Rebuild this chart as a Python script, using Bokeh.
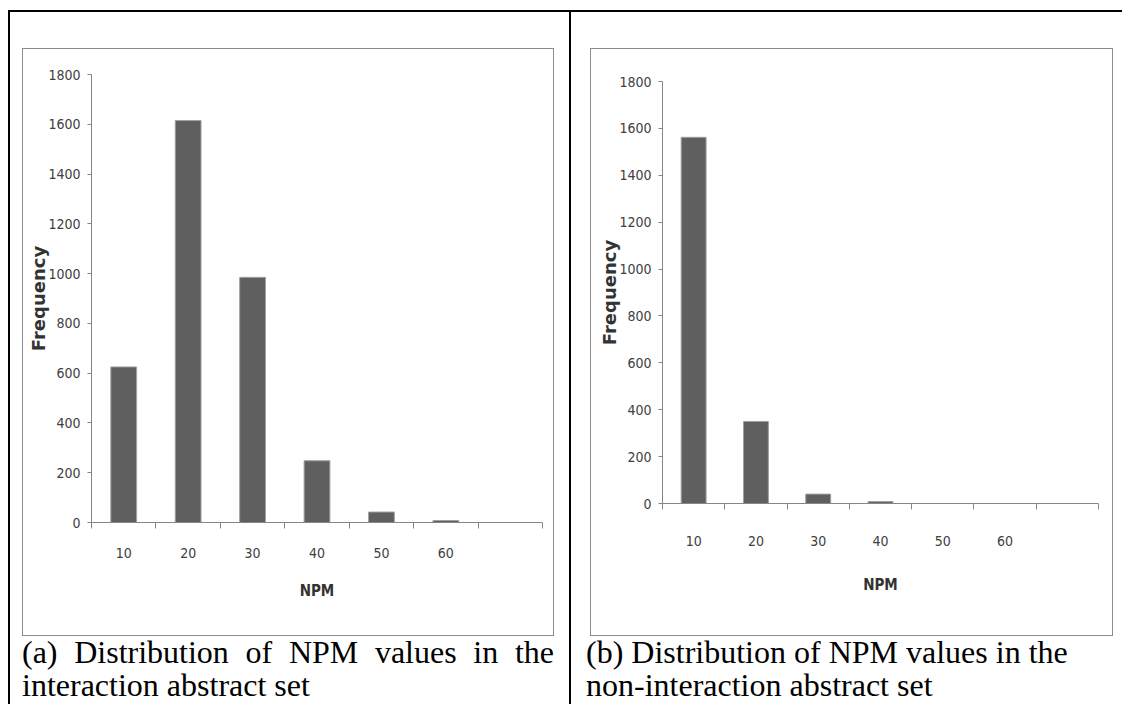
from bokeh.plotting import figure
from bokeh.models import Range1d, FixedTicker, CustomJSTickFormatter, Div, Spacer
from bokeh.layouts import row, column
from bokeh.embed import file_html
from bokeh.resources import INLINE

# ---- data ----
npm_labels = ["10", "20", "30", "40", "50", "60", ""]
freq_interaction = [625, 1615, 985, 248, 42, 8, 0]
freq_non_interaction = [1562, 350, 40, 8, 0, 0, 0]
y_ticks = [0, 200, 400, 600, 800, 1000, 1200, 1400, 1600, 1800]
x_title = "NPM"
y_title = "Frequency"
caption_a = "(a) Distribution of NPM values in the interaction abstract set"
caption_b = "(b) Distribution of NPM values in the non-interaction abstract set"

TICK_FONT = "'Liberation Sans Narrow', 'DejaVu Sans Condensed', 'Liberation Sans', sans-serif"
AXIS_GRAY = "#868686"


def make_chart(values, w, h, ml, mr, mt, mb, xlab_so, xtitle_so, ytitle_so):
    n = len(npm_labels)
    p = figure(width=w, height=h, x_range=Range1d(0, n),
               y_range=Range1d(y_ticks[0], y_ticks[-1]),
               output_backend="svg", toolbar_location=None,
               min_border_left=ml, min_border_right=mr,
               min_border_top=mt, min_border_bottom=mb)
    centers = [i + 0.5 for i in range(n)]
    p.vbar(x=centers, top=values, width=0.4, fill_color="#5f5f5f",
           line_color="#a0a0a0", line_width=1)
    p.grid.visible = False
    p.outline_line_color = None
    p.background_fill_color = "white"
    p.border_fill_color = "white"

    xa = p.xaxis[0]
    xa.ticker = FixedTicker(ticks=centers, minor_ticks=list(range(n + 1)))
    xa.formatter = CustomJSTickFormatter(args=dict(labels=npm_labels),
                                         code="const s = labels[Math.floor(tick)]; return s ? s : '';")
    xa.major_tick_line_color = None
    xa.major_tick_out = 0
    xa.major_tick_in = 0
    xa.minor_tick_line_color = AXIS_GRAY
    xa.minor_tick_out = 6
    xa.minor_tick_in = 0
    xa.axis_line_color = AXIS_GRAY
    xa.major_label_standoff = xlab_so
    xa.major_label_text_font = TICK_FONT
    xa.major_label_text_font_size = "14px"
    xa.major_label_text_color = "#404040"
    xa.axis_label = x_title
    xa.axis_label_text_font = TICK_FONT
    xa.axis_label_text_font_size = "15px"
    xa.axis_label_text_font_style = "bold"
    xa.axis_label_text_color = "#333333"
    xa.axis_label_standoff = xtitle_so

    ya = p.yaxis[0]
    ya.ticker = FixedTicker(ticks=y_ticks)
    ya.minor_tick_line_color = None
    ya.major_tick_out = 4
    ya.major_tick_in = 0
    ya.major_tick_line_color = AXIS_GRAY
    ya.axis_line_color = AXIS_GRAY
    ya.major_label_standoff = 7
    ya.major_label_text_font = TICK_FONT
    ya.major_label_text_font_size = "14px"
    ya.major_label_text_color = "#404040"
    ya.axis_label = y_title
    ya.axis_label_text_font = "DejaVu Sans"
    ya.axis_label_text_font_size = "18px"
    ya.axis_label_text_font_style = "bold"
    ya.axis_label_text_color = "#333333"
    ya.axis_label_standoff = ytitle_so
    return p


def solid(w, h, color):
    return Div(text="", width=w, height=h, margin=0,
               styles={"background-color": color})


def boxed(fig, w, h):
    g = "#8c8c8c"
    return column(solid(w + 2, 1, g),
                  row(solid(1, h, g), fig, solid(1, h, g), spacing=0),
                  solid(w + 2, 1, g), spacing=0)


def caption(text, w, h, align):
    return Div(text=text, width=w, height=h, margin=0,
               styles={"font-family": "'Liberation Serif', 'Times New Roman', serif",
                       "font-size": "32px", "line-height": "33px",
                       "text-align": align, "color": "black"})


fig_a = make_chart(freq_interaction, 530, 586, 68, 11, 25, 113, 19, 21, -4)
fig_b = make_chart(freq_non_interaction, 521, 586, 71, 14, 32, 132, 26, 27, -4)

CAP_H = 68
ROW_H = 36 + 588 + CAP_H

cell_a = column(
    Spacer(width=559, height=36),
    row(Spacer(width=12, height=588), boxed(fig_a, 530, 586), Spacer(width=15, height=588), spacing=0),
    row(Spacer(width=12, height=CAP_H), caption(caption_a, 532, CAP_H, "justify"), Spacer(width=15, height=CAP_H), spacing=0),
    spacing=0)

cell_b = column(
    Spacer(width=543, height=36),
    row(Spacer(width=19, height=588), boxed(fig_b, 521, 586), Spacer(width=1, height=588), spacing=0),
    row(Spacer(width=15, height=CAP_H), caption(caption_b, 528, CAP_H, "left"), spacing=0),
    spacing=0)

table = column(
    solid(1114, 2, "black"),
    row(solid(2, ROW_H, "black"), cell_a, solid(2, ROW_H, "black"), cell_b, spacing=0),
    spacing=0)

layout = column(
    Spacer(width=1122, height=10),
    row(Spacer(width=8, height=ROW_H + 2), table, spacing=0),
    spacing=0)

open("out.html", "w").write(file_html(layout, INLINE))
